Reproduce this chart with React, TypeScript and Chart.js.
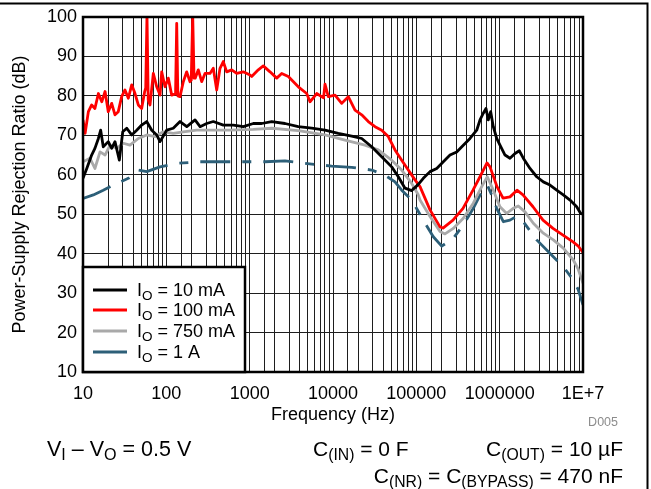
import React, { useEffect, useRef } from 'react';
import { Chart, registerables } from 'chart.js';

Chart.register(...registerables);

const FONT_FAMILY = 'Arial, "Liberation Sans", Helvetica, sans-serif';

// ---------- data ----------
const freq10mA = [10, 11.1, 12.7, 13.9, 15.3, 16.3, 17.5, 20.1, 22.1, 24.2, 27.3, 30, 33.5, 38.4, 44.1, 50.6, 58.1, 66.8, 76.7, 84, 101, 121, 146, 176, 221, 254, 305, 366, 483, 636, 839, 1106, 1394, 1838, 2655, 3834, 5553, 8017, 11574, 16763, 22108, 29138, 38404, 50629, 60759, 73114, 87984, 105000, 121200, 145900, 175600, 210700, 253500, 305100, 366100, 440600, 530300, 580800, 636300, 685500, 730500, 780600, 838500, 921300, 1009000, 1159000, 1330000, 1528000, 1720000, 1921000, 2312000, 2783000, 3339000, 4018000, 4836000, 5801000, 6982000, 8404000, 9385000, 10000000];
const psrr10mA = [59.1, 61.6, 65, 66.7, 69.2, 71.3, 67.1, 68.4, 66.7, 68.4, 63.7, 70.9, 71.8, 70.1, 71.3, 72.6, 73.5, 71.3, 70.1, 68.4, 71.3, 71.8, 73.5, 72.2, 73.9, 72.2, 73.0, 73.5, 72.6, 72.6, 72.2, 73.0, 73.0, 73.5, 73.0, 72.2, 71.8, 71.3, 70.5, 69.8, 69.2, 67.1, 64.6, 62.0, 59.5, 56.6, 56.0, 57.5, 59.1, 60.8, 61.6, 63.3, 65.0, 65.8, 67.5, 69.2, 71.3, 73.9, 75.6, 76.8, 73.9, 76.0, 72.2, 69.2, 67.5, 65.0, 64.2, 65.4, 66.1, 64.2, 61.6, 59.5, 58.2, 57.4, 56.1, 54.9, 53.6, 51.9, 50.2, 50.0];

const freq100mA = [10, 10.6, 11.6, 12.7, 13.9, 15.3, 16.8, 18.4, 20.1, 22.1, 24.2, 26.5, 29.1, 31.9, 35, 38.4, 42.1, 46.1, 50.6, 55, 56.6, 58.6, 60.6, 63.7, 69.8, 76.7, 84, 88, 96.4, 105.6, 116, 129, 133.2, 137.5, 145.9, 159.8, 175.6, 192.3, 199, 207.2, 215, 222, 241.9, 265.7, 291.1, 334.2, 366.1, 402.2, 440.6, 482.6, 530.3, 608.7, 699, 838.5, 1009, 1058, 1269, 1457, 1754, 2111, 2424, 2909, 3834, 4836, 5297, 6373, 7700, 8017, 8783, 10570, 12720, 15260, 18370, 22110, 26520, 31920, 38400, 46090, 55460, 66760, 80090, 96390, 110700, 145900, 192300, 208900, 275400, 363100, 478600, 580800, 704700, 765600, 929000, 1096000, 1330000, 1614000, 1905000, 2512000, 3311000, 4365000, 5754000, 7586000, 8710000, 10000000];
const psrr100mA = [73.9, 70.5, 76.0, 77.7, 76.8, 80.6, 78.5, 81.1, 76.0, 78.1, 75.2, 76.0, 79.8, 81.5, 79.4, 82.8, 80.6, 77.7, 76.8, 81.1, 82.0, 100.5, 79.0, 77.7, 85.7, 82.3, 80.2, 86.1, 82.3, 84.5, 80.2, 80.5, 98.4, 80.0, 79.8, 83.6, 86.1, 83.6, 84.0, 100.5, 84.5, 84.5, 86.6, 83.6, 85.7, 85.7, 87.0, 81.5, 87.0, 88.7, 86.1, 86.6, 85.7, 86.1, 85.3, 84.9, 86.6, 87.6, 86.1, 84.5, 85.7, 84.9, 82.3, 80.6, 78.5, 80.6, 79.5, 83.0, 79.8, 80.2, 78.1, 79.8, 76.4, 75.2, 73.5, 72.2, 71.3, 69.7, 66.3, 63.7, 61.2, 58.7, 57.0, 51.1, 46.8, 46.5, 48.5, 51.5, 56.1, 59.5, 63.0, 62.0, 57.0, 54.1, 54.4, 56.1, 54.9, 51.9, 48.5, 46.4, 44.7, 43.0, 42.0, 40.3];

const freq750mA = [10, 12.1, 13.9, 16, 18.4, 21.1, 25.4, 30.5, 36.6, 46.1, 58.1, 73.1, 92, 121, 160, 231, 366, 581, 1106, 1838, 3834, 8017, 13930, 24210, 34960, 50629, 66760, 87984, 105000, 110700, 145900, 192300, 220800, 277700, 366100, 482600, 608700, 710600, 838500, 1009000, 1214000, 1457000, 1673000, 2014000, 2533000, 3339000, 4401000, 5801000, 7647000, 8785000, 10000000];
const psrr750mA = [63.3, 64.2, 61.6, 65.8, 65.0, 67.5, 66.7, 68.0, 67.5, 69.2, 70.1, 69.7, 70.9, 70.5, 70.9, 71.3, 71.3, 71.3, 71.5, 71.8, 71.2, 70.1, 68.8, 67.5, 66.3, 63.7, 61.2, 57.8, 55.0, 53.6, 49.4, 45.6, 45.0, 46.4, 49.0, 52.8, 57.0, 59.5, 56.1, 51.9, 50.2, 51.5, 52.1, 50.6, 47.7, 45.2, 43.5, 41.4, 38.4, 36.0, 32.5];

const freq1A = [10, 13.3, 17.5, 23.1, 35, 46.1, 58.1, 84, 133.2, 253.5, 440.6, 765.6, 1528, 2655, 4613, 9647, 16763, 29140, 42070, 55460, 66760, 87980, 121200, 159800, 201600, 277700, 366100, 482600, 608700, 710600, 802400, 921300, 1106000, 1330000, 1601000, 1921000, 2783000, 4401000, 5801000, 7647000, 8710000, 10000000];
const psrr1A = [54.0, 54.9, 56.1, 57.4, 59.1, 61.2, 60.8, 62.0, 62.9, 63.3, 63.3, 63.3, 63.3, 63.5, 62.9, 62.2, 61.9, 61.2, 59.9, 58.2, 56.1, 53.6, 48.5, 44.3, 41.9, 43.9, 47.3, 51.5, 55.7, 57.4, 54.9, 51.5, 48.1, 48.5, 49.5, 48.1, 43.5, 39.2, 36.7, 33.3, 31.0, 27.0];

const seriesLabels = ['I_{O} = 10 mA', 'I_{O} = 100 mA', 'I_{O} = 750 mA', 'I_{O} = 1 A'];
const seriesColors = ['#000000', '#ff0000', '#a9a9a9', '#2d5f78'];

const xTickValues = [10, 100, 1000, 10000, 100000, 1000000, 10000000];
const xTickLabels = ['10', '100', '1000', '10000', '100000', '1000000', '1E+7'];
const yTickValues = [10, 20, 30, 40, 50, 60, 70, 80, 90, 100];
const yTickLabels = ['10', '20', '30', '40', '50', '60', '70', '80', '90', '100'];

const xAxisTitle = 'Frequency (Hz)';
const yAxisTitle = 'Power-Supply Rejection Ratio (dB)';
const figureId = 'D005';
const conditionTexts = [
  'V_{I} – V_{O} = 0.5 V',
  'C_{(IN)} = 0 F',
  'C_{(OUT)} = 10 µF',
  'C_{(NR)} = C_{(BYPASS)} = 470 nF',
];

// ---------- layout (not data) ----------
const conditionLayout = [
  { x: 47, y: 455.5, align: 'left', size: 21.5 },
  { x: 313, y: 455.5, align: 'left', size: 21 },
  { x: 623, y: 455.5, align: 'right', size: 21 },
  { x: 623, y: 482.5, align: 'right', size: 21 },
];

type Part = { t: string; sub: boolean };
function parseRich(s: string): Part[] {
  const parts: Part[] = [];
  const re = /_\{([^}]*)\}/g;
  let last = 0;
  let m: RegExpExecArray | null;
  while ((m = re.exec(s))) {
    if (m.index > last) parts.push({ t: s.slice(last, m.index), sub: false });
    parts.push({ t: m[1], sub: true });
    last = re.lastIndex;
  }
  if (last < s.length) parts.push({ t: s.slice(last), sub: false });
  return parts;
}

function drawRich(ctx: CanvasRenderingContext2D, s: string, x: number, y: number, size: number, align: string, color: string) {
  const parts = parseRich(s);
  const mainFont = `${size}px ${FONT_FAMILY}`;
  const subFont = `${size * 0.75}px ${FONT_FAMILY}`;
  let w = 0;
  for (const p of parts) {
    ctx.font = p.sub ? subFont : mainFont;
    w += ctx.measureText(p.t).width;
  }
  let cx = align === 'right' ? x - w : align === 'center' ? x - w / 2 : x;
  ctx.textBaseline = 'alphabetic';
  ctx.textAlign = 'left';
  ctx.fillStyle = color;
  for (const p of parts) {
    ctx.font = p.sub ? subFont : mainFont;
    ctx.fillText(p.t, cx, p.sub ? y + size * 0.2 : y);
    cx += ctx.measureText(p.t).width;
  }
}

const decorPlugin = {
  id: 'decor',
  afterDraw(chart: any) {
    const ctx: CanvasRenderingContext2D = chart.ctx;
    const a = chart.chartArea;
    ctx.save();
    // plot border
    ctx.strokeStyle = '#000';
    ctx.lineWidth = 2.5;
    ctx.strokeRect(a.left, a.top, a.right - a.left, a.bottom - a.top);

    // legend
    const lw = 162, lh = 105;
    const lx = a.left, ly = a.bottom - lh;
    ctx.fillStyle = '#fff';
    ctx.fillRect(lx, ly, lw, lh);
    ctx.strokeStyle = '#000';
    ctx.lineWidth = 2.5;
    ctx.strokeRect(lx, ly, lw, lh);
    const rowOffsets = [82, 62, 41, 20];
    chart.data.datasets.forEach((ds: any, i: number) => {
      const cy = a.bottom - rowOffsets[i];
      ctx.beginPath();
      ctx.setLineDash([]);
      ctx.strokeStyle = seriesColors[i];
      ctx.lineWidth = 2.8;
      ctx.moveTo(lx + 10, cy);
      ctx.lineTo(lx + 44, cy);
      ctx.stroke();
      drawRich(ctx, seriesLabels[i], lx + 54, cy + 6, 18, 'left', '#000');
    });

    // figure id
    ctx.font = `12.5px ${FONT_FAMILY}`;
    ctx.fillStyle = '#8c8c8c';
    ctx.textAlign = 'right';
    ctx.textBaseline = 'alphabetic';
    ctx.fillText(figureId, 618, 426);

    // conditions
    conditionTexts.forEach((t, i) => {
      const L = conditionLayout[i];
      drawRich(ctx, t, L.x, L.y, L.size, L.align, '#000');
    });

    // outer frame
    ctx.strokeStyle = '#000';
    ctx.lineWidth = 2;
    ctx.beginPath();
    ctx.moveTo(0, 3.5);
    ctx.lineTo(648.5, 3.5);
    ctx.moveTo(647.5, 3);
    ctx.lineTo(647.5, 489);
    ctx.stroke();
    ctx.restore();
  },
};

export default function App() {
  const ref = useRef<HTMLCanvasElement | null>(null);
  useEffect(() => {
    const canvas = ref.current;
    if (!canvas) return;
    const series = [
      [freq10mA, psrr10mA],
      [freq100mA, psrr100mA],
      [freq750mA, psrr750mA],
      [freq1A, psrr1A],
    ];
    const GRID = '#1e1e1e';
    const chart = new Chart(canvas, {
      type: 'line',
      data: {
        datasets: series.map(([f, v], i) => ({
          label: seriesLabels[i],
          data: f.map((x, j) => ({ x, y: v[j] })),
          borderColor: seriesColors[i],
          backgroundColor: seriesColors[i],
          borderWidth: 2.8,
          pointRadius: 0,
          tension: 0,
          fill: false,
          borderDash: i === 3 ? [30, 12, 9, 12] : [],
          borderJoinStyle: 'round',
        })),
      },
      options: {
        responsive: false,
        animation: false,
        devicePixelRatio: 1,
        layout: { padding: { left: 0, top: 17, right: 68, bottom: 57 } },
        plugins: { legend: { display: false }, tooltip: { enabled: false } },
        scales: {
          x: {
            type: 'logarithmic',
            min: 10,
            max: 10000000,
            position: 'bottom',
            afterFit: (s: any) => { s.height = 60; },
            grid: { color: GRID, lineWidth: 1, drawTicks: false },
            border: { display: false },
            ticks: {
              autoSkip: false,
              maxRotation: 0,
              minRotation: 0,
              padding: 11,
              color: '#000',
              font: { family: FONT_FAMILY, size: 18 },
              callback: (val: any) => {
                const v = Number(val);
                const idx = xTickValues.findIndex((t) => Math.abs(Math.log10(t) - Math.log10(v)) < 1e-6);
                return idx >= 0 ? xTickLabels[idx] : '';
              },
            },
            title: {
              display: true,
              text: xAxisTitle,
              color: '#000',
              font: { family: FONT_FAMILY, size: 18 },
              padding: { top: 0, bottom: 6 },
            },
          },
          y: {
            type: 'linear',
            min: 10,
            max: 100,
            position: 'left',
            afterFit: (s: any) => { s.width = 83; },
            afterBuildTicks: (s: any) => { s.ticks = yTickValues.map((v) => ({ value: v })); },
            grid: { color: GRID, lineWidth: 1, drawTicks: false },
            border: { display: false },
            ticks: {
              padding: 6,
              color: '#000',
              font: { family: FONT_FAMILY, size: 18 },
              callback: (val: any) => {
                const idx = yTickValues.indexOf(Number(val));
                return idx >= 0 ? yTickLabels[idx] : '';
              },
            },
            title: {
              display: true,
              text: yAxisTitle,
              color: '#000',
              font: { family: FONT_FAMILY, size: 18 },
              padding: { top: 9, bottom: 0 },
            },
          },
        },
      } as any,
      plugins: [decorPlugin],
    });
    return () => chart.destroy();
  }, []);

  return (
    <div style={{ position: 'fixed', left: 0, top: 0, width: 651, height: 489, background: '#fff' }}>
      <canvas ref={ref} width={651} height={489} style={{ display: 'block', width: 651, height: 489 }} />
    </div>
  );
}
